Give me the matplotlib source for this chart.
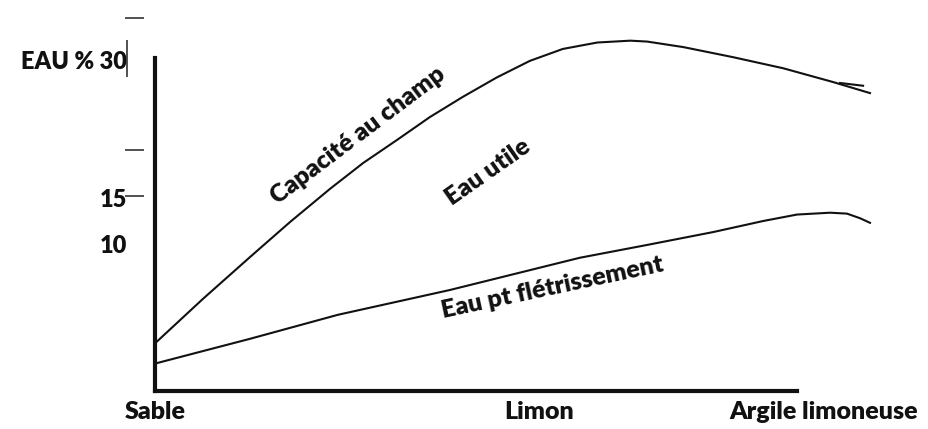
import numpy as np
import matplotlib
matplotlib.use("Agg")
import matplotlib.pyplot as plt

plt.rcParams['font.family'] = ['Lato', 'DejaVu Sans']

# texture du sol (0 = sable, 50 = limon) et humidité (EAU %)
texture_labels = ['Sable', 'Limon', 'Argile limoneuse']
texture_pos = [0, 50, 87]

y_labels = ['EAU % 30', '15', '10']
y_pos = [30, 15, 10]

# capacité au champ
cc_x = [0, 6.2, 12.4, 17.6, 22.8, 27.1, 31.5, 35.8, 40.1, 44.5, 48.8, 53.1, 57.6, 61.9,
        64.1, 68.8, 75.3, 81.8, 88.3, 93.1]
cc_y = [-0.8, 4.0, 8.6, 12.4, 16.0, 18.8, 21.3, 23.8, 26.0, 28.1, 29.9, 31.2, 31.9, 32.1,
        32.0, 31.4, 30.3, 29.1, 27.6, 26.4]

# point de flétrissement
pf_x = [0, 12.4, 23.8, 38.4, 55.3, 64.1, 72.7, 79.2, 83.6, 87.9, 90.1, 91.8, 93.1]
pf_y = [-3.0, -0.3, 2.3, 5.0, 8.5, 9.9, 11.3, 12.5, 13.2, 13.4, 13.3, 12.8, 12.3]

# petit trait en double au bout de la courbe
trait_x = [89.2, 92.2]
trait_y = [27.5, 27.2]

# traits de graduation isolés à gauche de l'axe
dash_y = [34.6, 20.2, 15.2]

ink = '#111111'
fs = 18

fig = plt.figure(figsize=(9.29, 4.29), dpi=100)
ax = fig.add_axes([0, 0, 1, 1])
ax.set_xlim(-20.18, 100.78)
ax.set_ylim(-10.11, 36.52)

ax.plot(cc_x, cc_y, color=ink, lw=1.5, solid_joinstyle='round')
ax.plot(pf_x, pf_y, color=ink, lw=1.5, solid_joinstyle='round')
ax.plot(trait_x, trait_y, color=ink, lw=1.5)

for s in ['top', 'right']:
    ax.spines[s].set_visible(False)
ax.spines['left'].set_position(('data', 0))
ax.spines['bottom'].set_position(('data', -5.98))
ax.spines['left'].set_bounds(-5.98, 30.2)
ax.spines['bottom'].set_bounds(0, 83.6)
for s in ['left', 'bottom']:
    ax.spines[s].set_linewidth(3)
    ax.spines[s].set_color(ink)

ax.set_xticks(texture_pos)
ax.set_xticklabels(texture_labels, fontsize=fs, fontweight='heavy', color=ink)
ax.tick_params(axis='x', length=0, pad=7)
ax.set_yticks(y_pos)
ax.set_yticklabels(y_labels, fontsize=17, fontweight='heavy', color=ink)
ax.tick_params(axis='y', length=0, pad=20)

ax.hlines(dash_y, -3.9, -1.4, color='#333333', lw=1.2)
ax.vlines(-3.6, 28.15, 32.2, color='#333333', lw=1.2)

ax.text(26.5, 21.8, 'Capacité au champ', rotation=37, ha='center', va='center',
        rotation_mode='anchor', fontsize=fs, fontweight='heavy', color=ink)
ax.text(43.4, 17.8, 'Eau utile', rotation=35, ha='center', va='center',
        rotation_mode='anchor', fontsize=fs, fontweight='heavy', color=ink)
ax.text(51.7, 5.2, 'Eau pt flétrissement', rotation=12, ha='center', va='center',
        rotation_mode='anchor', fontsize=fs, fontweight='heavy', color=ink)

fig.savefig('out.png', dpi=100)
